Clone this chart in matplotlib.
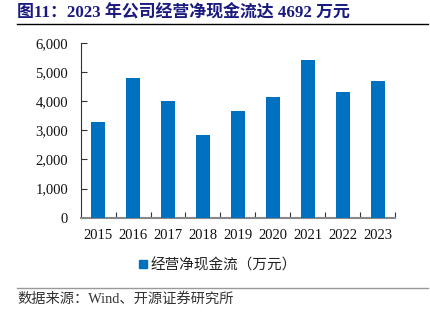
import matplotlib
matplotlib.use("Agg")
import matplotlib.pyplot as plt
from matplotlib.lines import Line2D
from matplotlib.ticker import FuncFormatter, FixedLocator

years = ["2015", "2016", "2017", "2018", "2019", "2020", "2021", "2022", "2023"]
cash_flow = [3300, 4810, 3990, 2850, 3660, 4150, 5420, 4300, 4692]
series_name = "经营净现金流（万元）"
title = "图11：2023 年公司经营净现金流达 4692 万元"
source = "数据来源：Wind、开源证券研究所"

serif_cjk = ["Liberation Serif", "Noto Sans CJK SC"]

fig = plt.figure(figsize=(4.30, 3.22), dpi=100)
ax = fig.add_axes([0.1877, 0.324, 0.7309, 0.543])

x = list(range(len(years)))
ax.bar(x, cash_flow, width=0.4, color="#0070C0", zorder=3)

ax.set_xlim(-0.5, len(years) - 0.5)
ax.set_ylim(0, 6000)
ax.set_yticks([0, 1000, 2000, 3000, 4000, 5000, 6000])
ax.yaxis.set_major_formatter(FuncFormatter(lambda v, p: f"{int(v):,}"))

ax.set_xticks(x)
ax.set_xticklabels(years)
ax.xaxis.set_minor_locator(FixedLocator([i + 0.5 for i in range(len(years))]))
ax.tick_params(axis="x", which="major", length=0, pad=8)
ax.tick_params(axis="x", which="minor", direction="in", length=4, width=0.8, color="#333333")
ax.tick_params(axis="y", direction="in", length=4, width=0.8, color="#333333", pad=9)

for lbl in ax.get_xticklabels() + ax.get_yticklabels():
    lbl.set_family(serif_cjk)
    lbl.set_fontsize(10.5)
    lbl.set_color("#111111")

for s in ["top", "right"]:
    ax.spines[s].set_visible(False)
ax.spines["left"].set_color("#333333")
ax.spines["left"].set_linewidth(0.8)
ax.spines["bottom"].set_color("#888888")
ax.spines["bottom"].set_linewidth(1.5)

# legend
leg_handle = Line2D([], [], marker="s", linestyle="none", markersize=6,
                    markerfacecolor="#0070C0", markeredgecolor="#0070C0")
leg = fig.legend([leg_handle], [series_name], loc="center",
                 bbox_to_anchor=(0.505, 1 - 265 / 322), frameon=False,
                 prop={"family": ["Noto Sans CJK SC"], "size": 10.5},
                 handletextpad=0.1, handlelength=0.8)
for t in leg.get_texts():
    t.set_color("#222222")

# title
fig.text(17 / 430, 1 - 13 / 322, title, family=serif_cjk, fontsize=12.2,
         fontweight="bold", color="#1A1A80", ha="left", va="center")
fig.add_artist(Line2D([17 / 430, 428 / 430], [1 - 24 / 322, 1 - 24 / 322],
                      color="#000000", linewidth=1.0))

# source line and text
fig.add_artist(Line2D([17 / 430, 428 / 430], [1 - 288 / 322, 1 - 288 / 322],
                      color="#999999", linewidth=1.0))
fig.text(17 / 430, 1 - 299 / 322, source, family=serif_cjk, fontsize=10.3,
         color="#333333", ha="left", va="center")

fig.savefig("out.png", dpi=100)
